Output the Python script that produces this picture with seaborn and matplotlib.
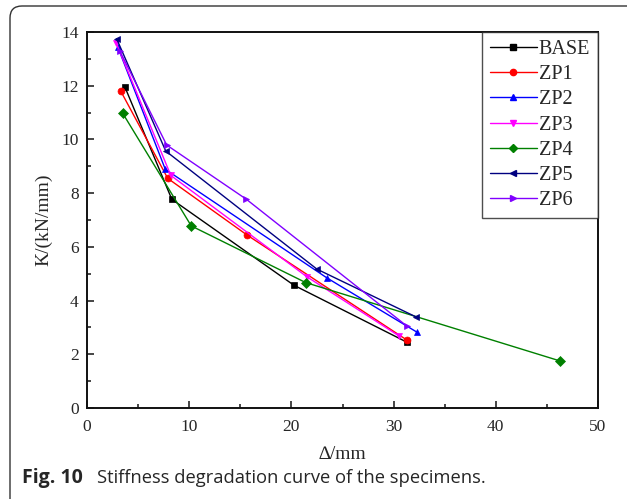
import numpy as np
import pandas as pd
import matplotlib
matplotlib.use("Agg")
import matplotlib.pyplot as plt
import seaborn as sns
from matplotlib.lines import Line2D
from matplotlib.patches import FancyBboxPatch
from matplotlib.transforms import IdentityTransform
from matplotlib.ticker import MultipleLocator

specimens = ["BASE", "ZP1", "ZP2", "ZP3", "ZP4", "ZP5", "ZP6"]
base_x = [3.7, 8.3, 20.25, 31.3]
base_y = [11.96, 7.77, 4.57, 2.45]
zp1_x = [3.3, 7.9, 15.7, 31.3]
zp1_y = [11.8, 8.55, 6.43, 2.53]
zp2_x = [3.0, 7.66, 23.45, 32.3]
zp2_y = [13.45, 8.89, 4.85, 2.82]
zp3_x = [2.85, 8.2, 21.5, 30.5]
zp3_y = [13.6, 8.66, 4.89, 2.69]
zp4_x = [3.5, 10.2, 21.4, 46.3]
zp4_y = [10.97, 6.78, 4.67, 1.75]
zp5_x = [2.9, 7.7, 22.5, 32.2]
zp5_y = [13.75, 9.57, 5.17, 3.39]
zp6_x = [3.2, 7.8, 15.6, 31.3]
zp6_y = [13.3, 9.79, 7.77, 3.05]

xs = [base_x, zp1_x, zp2_x, zp3_x, zp4_x, zp5_x, zp6_x]
ys = [base_y, zp1_y, zp2_y, zp3_y, zp4_y, zp5_y, zp6_y]

rows = []
for name, xv, yv in zip(specimens, xs, ys):
    for i, (a, b) in enumerate(zip(xv, yv)):
        rows.append({"specimen": name, "order": i, "disp": a, "K": b})
df = pd.DataFrame(rows)

colors = {"BASE": "#000000", "ZP1": "#ff0000", "ZP2": "#0000ff", "ZP3": "#ff00ff",
          "ZP4": "#008000", "ZP5": "#000080", "ZP6": "#8000ff"}
markers = {"BASE": "s", "ZP1": "o", "ZP2": "^", "ZP3": "v", "ZP4": "D", "ZP5": "<", "ZP6": ">"}

sns.set_style("ticks")
plt.rcParams['font.family'] = ['Liberation Serif', 'DejaVu Serif']

fig = plt.figure(figsize=(6.27, 4.99), dpi=100)
ax = fig.add_axes([87 / 627, 1 - 408 / 499, (598 - 87) / 627, (408 - 32) / 499])

sns.lineplot(data=df, x="disp", y="K", hue="specimen", style="specimen",
             hue_order=specimens, style_order=specimens,
             palette=colors, markers=markers, dashes=False, sort=False,
             estimator=None, units="specimen", ax=ax, legend=False,
             linewidth=1.0, markersize=5, markeredgecolor="auto", markeredgewidth=0.5)

ax.set_xlim(0, 50)
ax.set_ylim(0, 14)
ax.xaxis.set_major_locator(MultipleLocator(10))
ax.xaxis.set_minor_locator(MultipleLocator(5))
ax.yaxis.set_major_locator(MultipleLocator(2))
ax.yaxis.set_minor_locator(MultipleLocator(1))
ax.tick_params(which="both", direction="in", top=False, right=False, width=1.2, labelsize=12.5)
ax.tick_params(axis="x", pad=8)
ax.tick_params(axis="y", pad=6)
ax.tick_params(which="major", length=5)
ax.tick_params(which="minor", length=3)
for s in ax.spines.values():
    s.set_linewidth(1.4)
    s.set_color("#111111")

ax.set_xlabel("∆/mm", fontsize=14, labelpad=8)
ax.set_ylabel("K/(kN/mm)", fontsize=14, labelpad=6)

handles = [Line2D([], [], color=colors[s], marker=markers[s], markersize=4.5,
                  markeredgecolor=colors[s], linewidth=1.0) for s in specimens]
leg = ax.legend(handles, specimens, loc="upper right", bbox_to_anchor=(1.0, 1.0),
                borderaxespad=0, fontsize=14.5, frameon=True, fancybox=False,
                handlelength=2.3, handletextpad=0.1, labelspacing=0.3,
                borderpad=0.4, edgecolor="#222222")
leg.get_frame().set_linewidth(1.0)

# figure frame with rounded corner
frame = FancyBboxPatch((10, -40), 700, 499 - 6 + 40,
                       boxstyle="round,pad=0,rounding_size=12",
                       transform=IdentityTransform(), fill=False,
                       edgecolor="#333333", linewidth=1.0, clip_on=False)
fig.add_artist(frame)

fig.text(22 / 627, 1 - 478 / 499, "Fig. 10", fontsize=14, fontweight="bold",
         family=["Open Sans", "DejaVu Sans"], va="center", ha="left")
fig.text(97 / 627, 1 - 478 / 499, "Stiffness degradation curve of the specimens.",
         fontsize=13.2, family=["Open Sans", "DejaVu Sans"], va="center", ha="left")

fig.savefig("out.png", dpi=100)
